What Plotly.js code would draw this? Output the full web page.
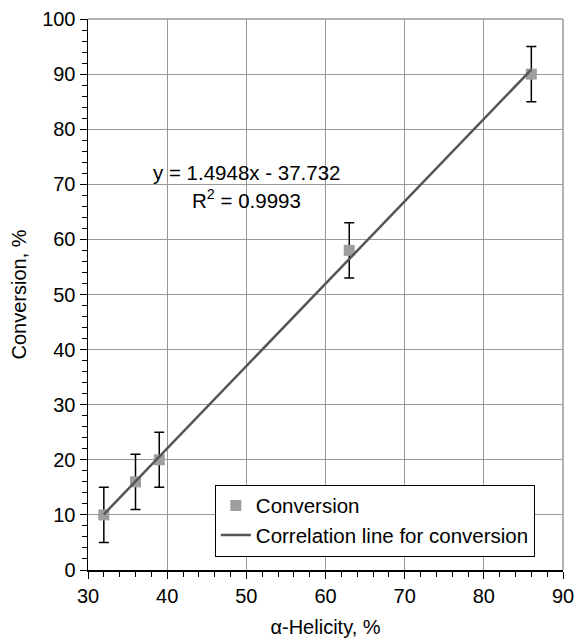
<!DOCTYPE html>
<html><head><meta charset="utf-8">
<script src="https://cdn.plot.ly/plotly-3.0.1.min.js"></script>
<style>body{margin:0;background:#fff}#chart{width:575px;height:638px}</style>
</head><body><div id="chart"></div>
<script>
const helicity = [32, 36, 39, 63, 86];
const conversion = [10, 16, 20, 58, 90];
const errors = [5, 5, 5, 5, 5];
const slope = 1.4948, intercept = -37.732;
const fitX = [32, 86];
const fitY = fitX.map(x => slope * x + intercept);
const xTicks = [30, 40, 50, 60, 70, 80, 90];
const yTicks = [0, 10, 20, 30, 40, 50, 60, 70, 80, 90, 100];
const eqText = "y = 1.4948x - 37.732";
const r2Text = "R<sup>2</sup> = 0.9993";

const F = "Liberation Sans, Arial, sans-serif";
const traces = [
  {x: helicity, y: conversion, type: 'scatter', mode: 'markers', name: 'Conversion',
   marker: {symbol: 'square', size: 11, color: '#9e9e9e'},
   error_y: {type: 'data', array: errors, visible: true, color: '#000', thickness: 1.5, width: 5}},
  {x: fitX, y: fitY, type: 'scatter', mode: 'lines', name: 'Correlation line for conversion',
   line: {color: '#555555', width: 2.5}}
];
const layout = {
  width: 575, height: 638,
  margin: {l: 88, r: 12, t: 19, b: 68},
  paper_bgcolor: '#fff', plot_bgcolor: '#fff',
  font: {family: F, size: 20, color: '#000'},
  showlegend: true,
  legend: {x: 0.267, y: 0.155, xanchor: 'left', yanchor: 'top', bgcolor: '#fff',
           bordercolor: '#000', borderwidth: 1, font: {family: F, size: 20.5}, tracegroupgap: 0,
           itemwidth: 30},
  xaxis: {range: [30, 90], tickvals: xTicks, showgrid: true, gridcolor: '#999', gridwidth: 1,
          showline: true, linecolor: '#000', linewidth: 1.5, ticks: 'outside', ticklen: 7,
          tickcolor: '#000', zeroline: false, mirror: false,
          minor: {dtick: 2, ticks: 'outside', ticklen: 5, tickcolor: '#000', showgrid: false},
          title: {text: 'α-Helicity, %', font: {family: F, size: 20}, standoff: 17},
          tickfont: {family: F, size: 20}},
  yaxis: {range: [0, 100], tickvals: yTicks, showgrid: true, gridcolor: '#999', gridwidth: 1,
          showline: true, linecolor: '#000', linewidth: 1.5, ticks: 'outside', ticklen: 7,
          tickcolor: '#000', zeroline: false,
          minor: {dtick: 2, ticks: 'outside', ticklen: 5, tickcolor: '#000', showgrid: false},
          title: {text: 'Conversion, %', font: {family: F, size: 20}, standoff: 10},
          tickfont: {family: F, size: 20}},
  annotations: [
    {x: 50, y: 72.2, xref: 'x', yref: 'y', text: eqText, showarrow: false,
     font: {family: F, size: 20.5}},
    {x: 50, y: 67.4, xref: 'x', yref: 'y', text: r2Text, showarrow: false,
     font: {family: F, size: 20.5}}
  ],
  shapes: [
    {type: 'line', xref: 'paper', yref: 'paper', x0: 1, x1: 1, y0: 0, y1: 1, line: {color: '#999', width: 1.5}},
    {type: 'line', xref: 'paper', yref: 'paper', x0: 0, x1: 1, y0: 1, y1: 1, line: {color: '#999', width: 1.5}}
  ]
};
Plotly.newPlot('chart', traces, layout, {displayModeBar: false, staticPlot: true});
</script></body></html>
